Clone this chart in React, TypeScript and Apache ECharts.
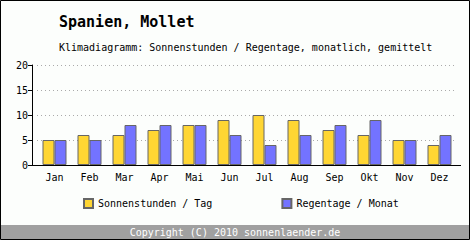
import React, { useEffect, useRef } from "react";
import * as echarts from "echarts";

const months = ["Jan", "Feb", "Mar", "Apr", "Mai", "Jun", "Jul", "Aug", "Sep", "Okt", "Nov", "Dez"];
const sunHours = [5, 6, 6, 7, 8, 9, 10, 9, 7, 6, 5, 4];
const rainDays = [5, 5, 8, 8, 8, 6, 4, 6, 8, 9, 5, 6];
const yTicks = { min: 0, max: 20, interval: 5 };

const FONT = "'DejaVu Sans Mono', monospace";

export default function App() {
  const ref = useRef<HTMLDivElement>(null);
  useEffect(() => {
    if (!ref.current) return;
    const chart = echarts.init(ref.current, undefined, { renderer: "svg" });
    chart.setOption({
      animation: false,
      backgroundColor: "#fcfefc",
      textStyle: { fontFamily: FONT },
      title: [
        {
          text: "Spanien, Mollet",
          left: 59,
          top: 14,
          padding: 0,
          textStyle: { fontFamily: FONT, fontSize: 15, fontWeight: "bold", color: "#000" },
        },
        {
          text: "Klimadiagramm: Sonnenstunden / Regentage, monatlich, gemittelt",
          left: 59,
          top: 42,
          padding: 0,
          textStyle: { fontFamily: FONT, fontSize: 10, fontWeight: "normal", color: "#000" },
        },
      ],
      legend: {
        left: 83,
        top: 198,
        padding: 0,
        itemWidth: 9,
        itemHeight: 9,
        itemGap: 69,
        icon: "rect",
        textStyle: { fontFamily: FONT, fontSize: 10, color: "#000" },
        data: ["Sonnenstunden / Tag", "Regentage / Monat"],
      },
      grid: { left: 37, right: 13, top: 65, bottom: 75, containLabel: false },
      xAxis: {
        type: "category",
        data: months,
        axisLine: { show: true, lineStyle: { color: "#000", width: 1 } },
        axisTick: { show: false },
        axisLabel: { color: "#000", fontFamily: FONT, fontSize: 10, margin: 7 },
      },
      yAxis: {
        type: "value",
        min: yTicks.min,
        max: yTicks.max,
        interval: yTicks.interval,
        offset: 5,
        axisLine: { show: true, lineStyle: { color: "#000", width: 1 } },
        axisTick: { show: true, length: 4, lineStyle: { color: "#000" } },
        axisLabel: { color: "#000", fontFamily: FONT, fontSize: 10, margin: 4 },
        splitLine: { show: true, lineStyle: { color: "#aaaaaa", type: [1, 3] } },
      },
      series: [
        {
          name: "Sonnenstunden / Tag",
          type: "bar",
          data: sunHours,
          barWidth: 12,
          barGap: "0%",
          itemStyle: { color: "#ffd633", borderColor: "#666666", borderWidth: 1 },
        },
        {
          name: "Regentage / Monat",
          type: "bar",
          data: rainDays,
          barWidth: 12,
          barGap: "0%",
          itemStyle: { color: "#7373ff", borderColor: "#666666", borderWidth: 1 },
        },
      ],
      graphic: [
        {
          type: "line",
          shape: { x1: 32, y1: 165.5, x2: 461, y2: 165.5 },
          style: { stroke: "#000", lineWidth: 1 },
          z: 10,
        },
        {
          type: "rect",
          shape: { x: 1, y: 225, width: 468, height: 14 },
          style: { fill: "#a0a0a0" },
        },
        {
          type: "text",
          x: 235,
          y: 232,
          style: {
            text: "Copyright (C) 2010 sonnenlaender.de",
            fill: "#fff",
            font: "10px 'DejaVu Sans Mono', monospace",
            align: "center",
            verticalAlign: "middle",
          },
        },
        {
          type: "rect",
          shape: { x: 0.5, y: 0.5, width: 469, height: 239 },
          style: { fill: "none", stroke: "#000", lineWidth: 1 },
          z: 20,
        },
      ],
    });
    return () => chart.dispose();
  }, []);
  return (
    <div
      ref={ref}
      style={{ position: "absolute", left: 0, top: 0, width: 470, height: 240 }}
    />
  );
}
